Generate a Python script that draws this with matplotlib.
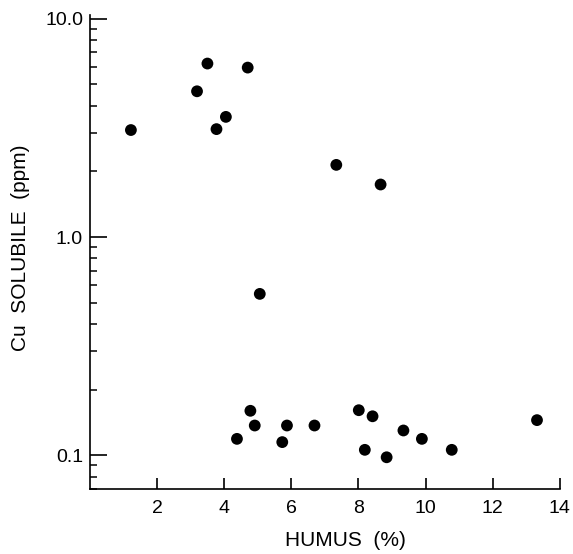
import numpy as np
import matplotlib
matplotlib.use("Agg")
import matplotlib.pyplot as plt
from matplotlib.ticker import LogLocator, FixedLocator, NullFormatter

plt.rcParams['font.family'] = ['Liberation Sans', 'DejaVu Sans']

# humus (%) vs soluble Cu (ppm)
humus = [1.22, 3.19, 3.50, 3.77, 4.05, 4.70, 7.34, 8.66, 5.06,
         4.78, 4.91, 4.38, 5.73, 5.87, 6.69, 8.01, 8.42, 8.19,
         8.84, 9.34, 9.89, 10.78, 13.32]
cu = [3.09, 4.65, 6.23, 3.12, 3.55, 5.97, 2.14, 1.74, 0.549,
      0.160, 0.137, 0.119, 0.115, 0.137, 0.137, 0.161, 0.151, 0.106,
      0.098, 0.130, 0.119, 0.106, 0.145]

xticks = [2, 4, 6, 8, 10, 12, 14]
yticks = [0.1, 1.0, 10.0]
ytick_labels = ['0.1', '1.0', '10.0']

fig = plt.figure(figsize=(5.73, 5.54), dpi=100)
ax = fig.add_axes([0.157, 0.117, 0.820, 0.856])

ax.scatter(humus, cu, s=72, c='black', edgecolors='none', zorder=3)

ax.set_yscale('log')
ax.set_xlim(0, 14)
ax.set_ylim(0.07, 10.4)

ax.xaxis.set_major_locator(FixedLocator(xticks))
ax.set_xticklabels([str(t) for t in xticks])
ax.yaxis.set_major_locator(FixedLocator(yticks))
ax.set_yticklabels(ytick_labels)
ax.yaxis.set_minor_locator(LogLocator(base=10, subs=np.arange(2, 10)))
ax.yaxis.set_minor_formatter(NullFormatter())

for s in ['top', 'right']:
    ax.spines[s].set_visible(False)
for s in ['left', 'bottom']:
    ax.spines[s].set_linewidth(1.2)

ax.tick_params(axis='y', which='major', direction='in', length=12, width=1.2,
               labelsize=14, pad=5)
ax.tick_params(axis='y', which='minor', direction='in', length=5, width=1.1)
ax.tick_params(axis='x', which='major', direction='in', length=8, width=1.2,
               labelsize=14, pad=8)

ax.set_xlabel('HUMUS  (%)', fontsize=15)
ax.set_ylabel('Cu  SOLUBILE  (ppm)', fontsize=15)
ax.xaxis.set_label_coords(0.543, -0.088)
ax.yaxis.set_label_coords(-0.128, 0.51)

fig.savefig('out.png', dpi=100)
